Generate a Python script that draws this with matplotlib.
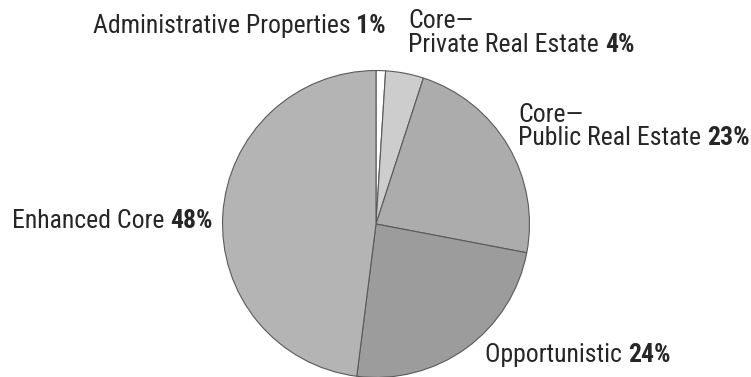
import matplotlib
matplotlib.use("Agg")
import matplotlib.pyplot as plt

# allocation by strategy, clockwise from 12 o'clock
segments = ["Administrative Properties", "Core—Private Real Estate",
            "Core—Public Real Estate", "Opportunistic", "Enhanced Core"]
shares = [1, 4, 23, 24, 48]
shades = ["#ffffff", "#cdcdcd", "#acacac", "#9c9c9c", "#b4b4b4"]

W, H = 751, 377
plt.rcParams["font.family"] = ["Roboto Condensed", "DejaVu Sans"]
TXT = "#262626"
FS = 18.5

fig = plt.figure(figsize=(W / 100, H / 100), dpi=100)
cx, cy, r = 376, 224, 155
ax = fig.add_axes([(cx - r) / W, (H - cy - r) / H, 2 * r / W, 2 * r / H])
ax.pie(shares, colors=shades, startangle=90, counterclock=False, radius=1,
       wedgeprops=dict(edgecolor="#5a5a5a", linewidth=0.8))
ax.set_xlim(-1.01, 1.01)
ax.set_ylim(-1.01, 1.01)
ax.set_aspect("equal")
ax.axis("off")

renderer = fig.canvas.get_renderer()


def label(x, y, words, pct):
    # plain words followed by a bold percentage on the same baseline
    t = fig.text(x / W, 1 - y / H, words + " ", fontsize=FS, color=TXT,
                 ha="left", va="baseline")
    bb = t.get_window_extent(renderer)
    fig.text(bb.x1 / W, 1 - y / H, f"{pct}%", fontsize=FS, color=TXT,
             fontweight="bold", ha="left", va="baseline")


def head(x, y, s):
    fig.text(x / W, 1 - y / H, s, fontsize=FS, color=TXT,
             ha="left", va="baseline")


label(93, 33, "Administrative Properties", shares[0])
head(408, 28, "Core—")
label(408, 52, "Private Real Estate", shares[1])
head(518, 122, "Core—")
label(518, 145, "Public Real Estate", shares[2])
label(485, 362, "Opportunistic", shares[3])
label(12, 228, "Enhanced Core", shares[4])

fig.savefig("out.png", dpi=100)
